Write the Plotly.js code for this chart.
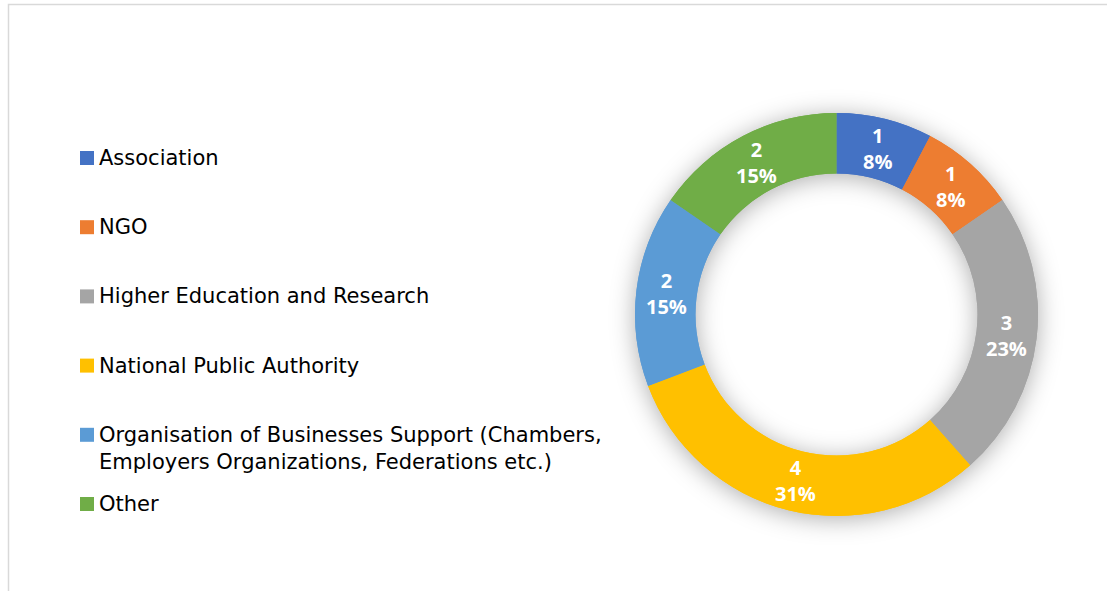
<!DOCTYPE html>
<html>
<head>
<meta charset="utf-8">
<script src="https://cdn.plot.ly/plotly-3.0.1.min.js"></script>
<style>
html,body{margin:0;padding:0;background:#fff;}
#chart{width:1107px;height:591px;}
</style>
</head>
<body>
<div id="chart"></div>
<script>
const categories = [
  "Association",
  "NGO",
  "Higher Education and Research",
  "National Public Authority",
  "Organisation of Businesses Support (Chambers,<br>Employers Organizations, Federations etc.)",
  "Other"
];
const counts = [1, 1, 3, 4, 2, 2];
const colors = ["#4472C4", "#ED7D31", "#A5A5A5", "#FFC000", "#5B9BD5", "#70AD47"];

const W = 1107, H = 591;
const px = x => x / W;
const py = y => 1 - y / H;

// donut geometry (pixels)
const cx = 836.5, cy = 314.5, R = 201.5, HOLE = 0.70;

const trace = {
  type: "pie",
  labels: categories,
  values: counts,
  sort: false,
  direction: "clockwise",
  rotation: 0,
  hole: HOLE,
  marker: { colors: colors, line: { width: 0 } },
  textinfo: "none",
  hoverinfo: "label+value+percent",
  showlegend: false,
  domain: { x: [px(cx - R), px(cx + R)], y: [py(cy + R), py(cy - R)] }
};

const annotations = [], shapes = [];

// data labels at the middle of each ring segment (value + rounded percent)
const total = counts.reduce((a, b) => a + b, 0);
const rMid = R * (1 + HOLE) / 2;
let cum = 0;
counts.forEach((v, i) => {
  const mid = (cum + v / 2) / total * 2 * Math.PI;
  cum += v;
  const x = cx + rMid * Math.sin(mid);
  const y = cy - rMid * Math.cos(mid);
  annotations.push({
    xref: "paper", yref: "paper", x: px(x), y: py(y),
    xanchor: "center", yanchor: "middle", align: "center",
    text: v + "<br>" + Math.round(v / total * 100) + "%",
    showarrow: false,
    font: { family: "Open Sans", size: 20, color: "#ffffff", weight: "bold" }
  });
});

// legend drawn as text + square markers
const legendTop = 158, legendStep = 69.2;
categories.forEach((c, i) => {
  const yc = legendTop + i * legendStep;
  annotations.push({
    xref: "paper", yref: "paper",
    x: px(97), y: py(yc - 14),
    xanchor: "left", yanchor: "top",
    align: "left",
    text: c,
    showarrow: false,
    font: { family: "DejaVu Sans", size: 21, color: "#000000" }
  });
  shapes.push({
    type: "rect", xref: "paper", yref: "paper",
    x0: px(80), x1: px(94), y0: py(yc - 7), y1: py(yc + 7),
    fillcolor: colors[i], line: { width: 0 }
  });
});
// outer chart frame
shapes.push({
  type: "rect", xref: "paper", yref: "paper",
  x0: px(8.5), x1: px(W + 10), y0: py(4.5), y1: py(H + 10),
  line: { color: "#d9d9d9", width: 1.5 }, fillcolor: "rgba(0,0,0,0)"
});

const layout = {
  width: W, height: H,
  margin: { l: 0, r: 0, t: 0, b: 0, pad: 0 },
  paper_bgcolor: "#ffffff",
  plot_bgcolor: "#ffffff",
  showlegend: false,
  annotations: annotations,
  shapes: shapes
};

Plotly.newPlot("chart", [trace], layout, { displayModeBar: false, staticPlot: true }).then(gd => {
  const layer = gd.querySelector(".pielayer");
  const tr = layer && layer.querySelector(".trace");
  if (!tr) return;
  const ns = "http://www.w3.org/2000/svg";
  const g = document.createElementNS(ns, "g");
  g.setAttribute("style", "filter: drop-shadow(0px 3px 12px rgba(0,0,0,0.32))");
  tr.querySelectorAll("path.surface").forEach(p => {
    const c = p.cloneNode(true);
    c.setAttribute("transform", p.parentNode.getAttribute("transform") || "");
    g.appendChild(c);
  });
  layer.insertBefore(g, tr);
});
</script>
</body>
</html>
